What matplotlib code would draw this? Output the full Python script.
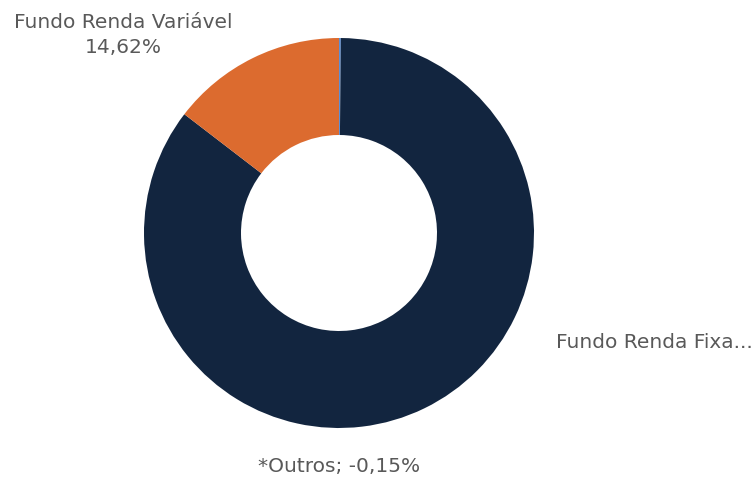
import matplotlib
matplotlib.use("Agg")
import matplotlib.pyplot as plt

plt.rcParams["font.family"] = ["DejaVu Sans"]

# slice data (clockwise from top)
labels = ["*Outros", "Fundo Renda Fixa", "Fundo Renda Variável"]
values = [0.15, 85.53, 14.62]
colors = ["#5b8fd8", "#12253f", "#dc6b2f"]

W, H = 752, 478
fig = plt.figure(figsize=(W / 100, H / 100), dpi=100)
ax = fig.add_axes([0, 0, 1, 1])

cx, cy, r = 339, H - 233, 195
ax.pie(values, colors=colors, startangle=90, counterclock=False,
       center=(cx, cy), radius=r, frame=True,
       wedgeprops=dict(width=r - 98, edgecolor="none"))
ax.set_xlim(0, W)
ax.set_ylim(0, H)
ax.set_aspect("equal")
ax.axis("off")

txt = dict(color="#595959", fontsize=14.5)
ax.text(123, H - 22, "Fundo Renda Variável", ha="center", va="center", **txt)
ax.text(123, H - 47, "14,62%", ha="center", va="center", **txt)
ax.text(556, H - 343, "Fundo Renda Fixa...", ha="left", va="center", **txt)
ax.text(339, H - 466, "*Outros; -0,15%", ha="center", va="center", **txt)

fig.savefig("out.png", dpi=100)
